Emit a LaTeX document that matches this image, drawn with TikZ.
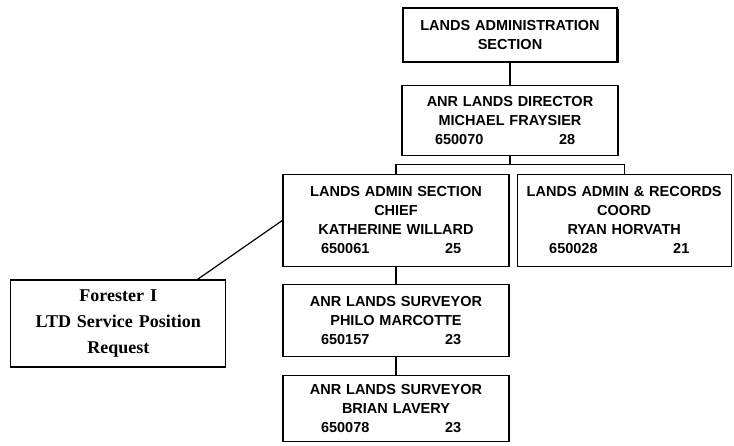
\documentclass[tikz,border=0pt]{standalone}
\usepackage{fontspec}
\newfontfamily\chartfont{Liberation Sans}
\newfontfamily\notefont{Liberation Serif}
\usetikzlibrary{positioning, shadows}

\newcommand{\idrow}[2]{\makebox[150pt][l]{\makebox[124pt][l]{#1}#2}}

\begin{document}
\begin{tikzpicture}[x=1pt, y=-1pt, line width=1.2pt,
  posbox/.style={draw, fill=white, text width=#1, align=center,
    inner xsep=2pt, inner ysep=0pt,
    font=\chartfont\bfseries\fontsize{14.5}{19}\selectfont},
  notebox/.style={draw, fill=white, text width=211pt, align=center,
    inner xsep=2pt, minimum height=87pt,
    font=\notefont\bfseries\fontsize{18}{26}\selectfont}]
          \useasboundingbox (0,0) rectangle (734,446);%

          \node [posbox=210pt, minimum height=54pt, drop shadow={shadow
            xshift=1.5pt, shadow yshift=-1.5pt, opacity=1, fill=black}] (sec)
          at (510,35) {LANDS ADMINISTRATION\\SECTION};%
          \node [posbox=212pt, minimum height=70pt, below=22pt of sec] (dir)
          {ANR LANDS DIRECTOR\\MICHAEL FRAYSIER\\\idrow{650070}{28}};%
          \node [posbox=222pt, minimum height=92pt, below=18pt of dir,
          xshift=-114pt] (chief) {LANDS ADMIN SECTION\\CHIEF\\KATHERINE
            WILLARD\\\idrow{650061}{25}};%
          \node [posbox=210pt, minimum height=92pt, right=7pt of chief] (rec)
          {LANDS ADMIN \& RECORDS\\COORD\\RYAN HORVATH\\\idrow{650028}{21}};%
          \node [posbox=222pt, minimum height=72pt, below=17pt of chief]
          (surv1) {ANR LANDS SURVEYOR\\PHILO MARCOTTE\\\idrow{650157}{23}};%
          \node [posbox=222pt, minimum height=66pt, below=18pt of surv1]
          (surv2) {ANR LANDS SURVEYOR\\BRIAN LAVERY\\\idrow{650078}{23}};%
          \node [notebox, left=56pt of surv1, yshift=-3pt] (req) {Forester
            I\\LTD Service Position\\Request};%

          \draw (sec) -- (dir);%
          \draw (dir.south) -- ++(0,9) coordinate (bar);%
          \draw (bar) -| (chief.north);%
          \draw (bar) -| (rec.north);%
          \draw (chief) -- (surv1);%
          \draw (surv1) -- (surv2);%
          \draw ([xshift=-29pt]req.north east) -- (chief.west);%

        \end{tikzpicture}
\end{document}
